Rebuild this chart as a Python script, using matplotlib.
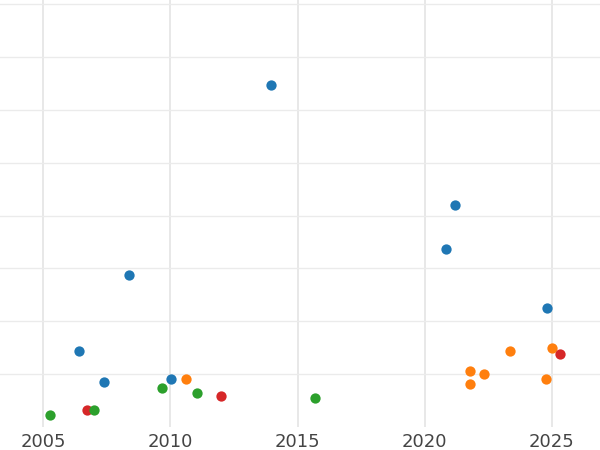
import matplotlib
matplotlib.use("Agg")
import matplotlib.pyplot as plt

# values (y in arbitrary units, grid every 10)
blue_x = [2013.96, 2021.19, 2020.84, 2008.39, 2024.80, 2006.41, 2007.41, 2010.02]
blue_y = [64.7, 42.0, 33.7, 28.8, 22.5, 14.3, 8.6, 9.1]

orange_x = [2010.61, 2021.78, 2022.32, 2021.78, 2023.35, 2025.00, 2024.78]
orange_y = [9.1, 10.5, 10.0, 8.1, 14.4, 14.9, 9.0]

red_x = [2006.72, 2011.99, 2025.30]
red_y = [3.2, 5.9, 13.8]

green_x = [2005.29, 2007.02, 2009.69, 2011.05, 2015.70]
green_y = [2.3, 3.2, 7.4, 6.4, 5.4]

x_ticks = [2005, 2010, 2015, 2020, 2025]
y_ticks = [10, 20, 30, 40, 50, 60, 70, 80]

fig = plt.figure(figsize=(6, 4.5), dpi=100)
ax = fig.add_axes([0, 23 / 450, 1, 427 / 450])

for xs, ys, c in [(blue_x, blue_y, "#1f77b4"),
                  (orange_x, orange_y, "#ff7f0e"),
                  (red_x, red_y, "#d62728"),
                  (green_x, green_y, "#2ca02c")]:
    ax.scatter(xs, ys, s=55, color=c, linewidths=0, zorder=3)

ax.set_xlim(2005 - 43 / 25.45, 2005 + 557 / 25.45)
ax.set_ylim(0, 80.78)
ax.set_xticks(x_ticks)
ax.set_yticks(y_ticks)
ax.set_yticklabels([])
ax.xaxis.grid(True, color="#e8e8e8", linewidth=1.4)
ax.yaxis.grid(True, color="#ebebeb", linewidth=1.0)
ax.set_axisbelow(True)
for s in ax.spines.values():
    s.set_visible(False)
ax.tick_params(axis="both", length=0, pad=4, labelsize=13, labelcolor="#444444")

fig.savefig("out.png", dpi=100)
